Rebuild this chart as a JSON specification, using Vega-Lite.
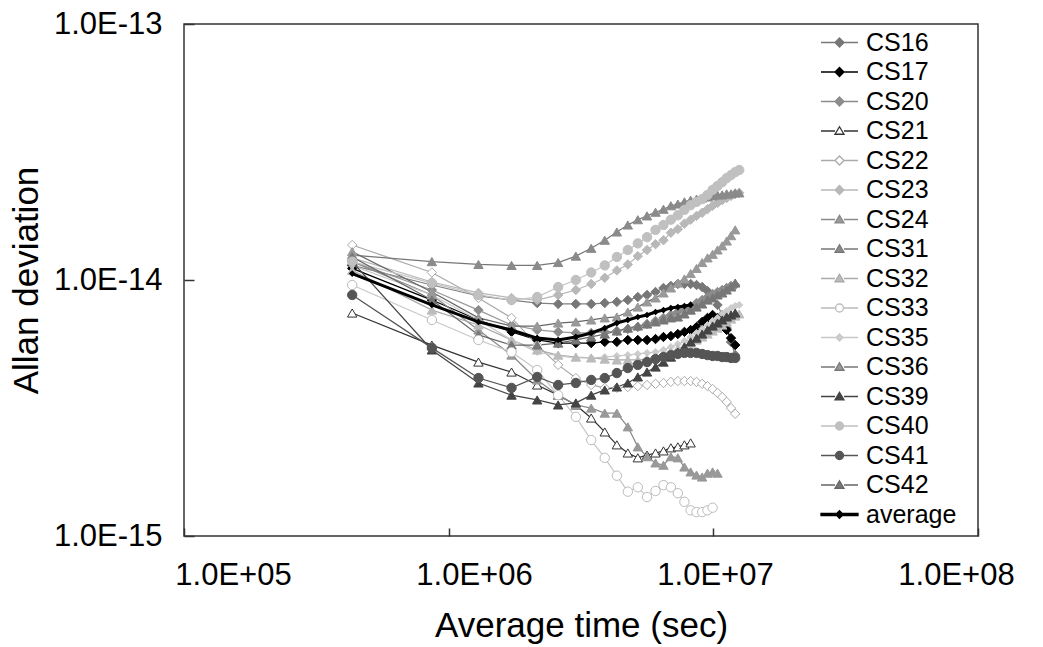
{
"$schema": "https://vega.github.io/schema/vega-lite/v6.json",
"width": 794, "height": 512,
"autosize": {"type": "none"},
"padding": {"left": 184, "top": 24, "right": 65, "bottom": 111},
"background": "#ffffff",
"config": {"view": {"stroke": "#333333", "strokeWidth": 1.5}, "font": "Liberation Sans"},
"data": {"values": [
{"series":"CS16","tau":432000,"adev":1.14e-14},{"series":"CS16","tau":864000,"adev":9.56e-15},{"series":"CS16","tau":1296000,"adev":8.66e-15},{"series":"CS16","tau":1728000,"adev":8.35e-15},{"series":"CS16","tau":2160000,"adev":8.13e-15},{"series":"CS16","tau":2592000,"adev":8.06e-15},{"series":"CS16","tau":3024000,"adev":8.06e-15},{"series":"CS16","tau":3456000,"adev":8.06e-15},{"series":"CS16","tau":3888000,"adev":8.13e-15},{"series":"CS16","tau":4320000,"adev":8.21e-15},{"series":"CS16","tau":4752000,"adev":8.35e-15},{"series":"CS16","tau":5184000,"adev":8.58e-15},{"series":"CS16","tau":5616000,"adev":8.74e-15},{"series":"CS16","tau":6048000,"adev":8.98e-15},{"series":"CS16","tau":6480000,"adev":9.31e-15},{"series":"CS16","tau":6912000,"adev":9.48e-15},{"series":"CS16","tau":7344000,"adev":9.65e-15},{"series":"CS16","tau":7776000,"adev":9.65e-15},{"series":"CS16","tau":8208000,"adev":9.65e-15},{"series":"CS16","tau":8640000,"adev":9.56e-15},{"series":"CS16","tau":9072000,"adev":9.39e-15},{"series":"CS16","tau":9504000,"adev":9.06e-15},{"series":"CS16","tau":9936000,"adev":8.58e-15},{"series":"CS16","tau":10368000,"adev":7.99e-15},{"series":"CS16","tau":10800000,"adev":7.30e-15},{"series":"CS16","tau":11232000,"adev":6.49e-15},{"series":"CS16","tau":11664000,"adev":5.73e-15},{"series":"CS16","tau":12096000,"adev":5.09e-15},
{"series":"CS17","tau":432000,"adev":1.11e-14},{"series":"CS17","tau":864000,"adev":8.35e-15},{"series":"CS17","tau":1296000,"adev":6.98e-15},{"series":"CS17","tau":1728000,"adev":6.27e-15},{"series":"CS17","tau":2160000,"adev":5.83e-15},{"series":"CS17","tau":2592000,"adev":5.67e-15},{"series":"CS17","tau":3024000,"adev":5.67e-15},{"series":"CS17","tau":3456000,"adev":5.67e-15},{"series":"CS17","tau":3888000,"adev":5.73e-15},{"series":"CS17","tau":4320000,"adev":5.73e-15},{"series":"CS17","tau":4752000,"adev":5.83e-15},{"series":"CS17","tau":5184000,"adev":5.83e-15},{"series":"CS17","tau":5616000,"adev":5.83e-15},{"series":"CS17","tau":6048000,"adev":5.88e-15},{"series":"CS17","tau":6480000,"adev":5.99e-15},{"series":"CS17","tau":6912000,"adev":6.04e-15},{"series":"CS17","tau":7344000,"adev":6.15e-15},{"series":"CS17","tau":7776000,"adev":6.27e-15},{"series":"CS17","tau":8208000,"adev":6.38e-15},{"series":"CS17","tau":8640000,"adev":6.55e-15},{"series":"CS17","tau":9072000,"adev":6.86e-15},{"series":"CS17","tau":9504000,"adev":7.11e-15},{"series":"CS17","tau":9936000,"adev":7.30e-15},{"series":"CS17","tau":10368000,"adev":7.11e-15},{"series":"CS17","tau":10800000,"adev":6.79e-15},{"series":"CS17","tau":11232000,"adev":6.38e-15},{"series":"CS17","tau":11664000,"adev":5.93e-15},{"series":"CS17","tau":12096000,"adev":5.57e-15},
{"series":"CS20","tau":432000,"adev":1.18e-14},{"series":"CS20","tau":864000,"adev":9.14e-15},{"series":"CS20","tau":1296000,"adev":7.63e-15},{"series":"CS20","tau":1728000,"adev":6.67e-15},{"series":"CS20","tau":2160000,"adev":6.38e-15},{"series":"CS20","tau":2592000,"adev":6.27e-15},{"series":"CS20","tau":3024000,"adev":6.21e-15},{"series":"CS20","tau":3456000,"adev":6.21e-15},{"series":"CS20","tau":3888000,"adev":6.27e-15},{"series":"CS20","tau":4320000,"adev":6.32e-15},{"series":"CS20","tau":4752000,"adev":6.44e-15},{"series":"CS20","tau":5184000,"adev":6.55e-15},{"series":"CS20","tau":5616000,"adev":6.73e-15},{"series":"CS20","tau":6048000,"adev":6.92e-15},{"series":"CS20","tau":6480000,"adev":7.11e-15},{"series":"CS20","tau":6912000,"adev":7.30e-15},{"series":"CS20","tau":7344000,"adev":7.50e-15},{"series":"CS20","tau":7776000,"adev":7.70e-15},{"series":"CS20","tau":8208000,"adev":7.91e-15},{"series":"CS20","tau":8640000,"adev":8.13e-15},{"series":"CS20","tau":9072000,"adev":8.35e-15},{"series":"CS20","tau":9504000,"adev":8.58e-15},{"series":"CS20","tau":9936000,"adev":8.82e-15},{"series":"CS20","tau":10368000,"adev":8.98e-15},{"series":"CS20","tau":10800000,"adev":9.14e-15},{"series":"CS20","tau":11232000,"adev":9.31e-15},{"series":"CS20","tau":11664000,"adev":9.48e-15},{"series":"CS20","tau":12096000,"adev":9.56e-15},
{"series":"CS21","tau":432000,"adev":7.43e-15},{"series":"CS21","tau":864000,"adev":5.57e-15},{"series":"CS21","tau":1296000,"adev":4.78e-15},{"series":"CS21","tau":1728000,"adev":4.37e-15},{"series":"CS21","tau":2160000,"adev":3.89e-15},{"series":"CS21","tau":2592000,"adev":3.55e-15},{"series":"CS21","tau":3024000,"adev":3.25e-15},{"series":"CS21","tau":3456000,"adev":2.89e-15},{"series":"CS21","tau":3888000,"adev":2.55e-15},{"series":"CS21","tau":4320000,"adev":2.27e-15},{"series":"CS21","tau":4752000,"adev":2.11e-15},{"series":"CS21","tau":5184000,"adev":2.02e-15},{"series":"CS21","tau":5616000,"adev":2.07e-15},{"series":"CS21","tau":6048000,"adev":2.11e-15},{"series":"CS21","tau":6480000,"adev":2.15e-15},{"series":"CS21","tau":6912000,"adev":2.21e-15},{"series":"CS21","tau":7344000,"adev":2.23e-15},{"series":"CS21","tau":7776000,"adev":2.27e-15},{"series":"CS21","tau":8208000,"adev":2.31e-15},
{"series":"CS22","tau":432000,"adev":1.37e-14},{"series":"CS22","tau":864000,"adev":1.07e-14},{"series":"CS22","tau":1296000,"adev":8.51e-15},{"series":"CS22","tau":1728000,"adev":7.11e-15},{"series":"CS22","tau":2160000,"adev":5.57e-15},{"series":"CS22","tau":2592000,"adev":4.66e-15},{"series":"CS22","tau":3024000,"adev":4.14e-15},{"series":"CS22","tau":3456000,"adev":3.89e-15},{"series":"CS22","tau":3888000,"adev":3.79e-15},{"series":"CS22","tau":4320000,"adev":3.79e-15},{"series":"CS22","tau":4752000,"adev":3.82e-15},{"series":"CS22","tau":5184000,"adev":3.85e-15},{"series":"CS22","tau":5616000,"adev":3.89e-15},{"series":"CS22","tau":6048000,"adev":3.93e-15},{"series":"CS22","tau":6480000,"adev":3.96e-15},{"series":"CS22","tau":6912000,"adev":4.00e-15},{"series":"CS22","tau":7344000,"adev":4.03e-15},{"series":"CS22","tau":7776000,"adev":4.03e-15},{"series":"CS22","tau":8208000,"adev":4.03e-15},{"series":"CS22","tau":8640000,"adev":4.00e-15},{"series":"CS22","tau":9072000,"adev":3.93e-15},{"series":"CS22","tau":9504000,"adev":3.85e-15},{"series":"CS22","tau":9936000,"adev":3.75e-15},{"series":"CS22","tau":10368000,"adev":3.62e-15},{"series":"CS22","tau":10800000,"adev":3.49e-15},{"series":"CS22","tau":11232000,"adev":3.34e-15},{"series":"CS22","tau":11664000,"adev":3.16e-15},{"series":"CS22","tau":12096000,"adev":3.00e-15},
{"series":"CS23","tau":432000,"adev":1.22e-14},{"series":"CS23","tau":864000,"adev":9.82e-15},{"series":"CS23","tau":1296000,"adev":8.90e-15},{"series":"CS23","tau":1728000,"adev":8.51e-15},{"series":"CS23","tau":2160000,"adev":8.35e-15},{"series":"CS23","tau":2592000,"adev":8.74e-15},{"series":"CS23","tau":3024000,"adev":9.14e-15},{"series":"CS23","tau":3456000,"adev":9.65e-15},{"series":"CS23","tau":3888000,"adev":1.02e-14},{"series":"CS23","tau":4320000,"adev":1.09e-14},{"series":"CS23","tau":4752000,"adev":1.15e-14},{"series":"CS23","tau":5184000,"adev":1.24e-14},{"series":"CS23","tau":5616000,"adev":1.31e-14},{"series":"CS23","tau":6048000,"adev":1.38e-14},{"series":"CS23","tau":6480000,"adev":1.43e-14},{"series":"CS23","tau":6912000,"adev":1.53e-14},{"series":"CS23","tau":7344000,"adev":1.58e-14},{"series":"CS23","tau":7776000,"adev":1.66e-14},{"series":"CS23","tau":8208000,"adev":1.72e-14},{"series":"CS23","tau":8640000,"adev":1.78e-14},{"series":"CS23","tau":9072000,"adev":1.83e-14},{"series":"CS23","tau":9504000,"adev":1.89e-14},{"series":"CS23","tau":9936000,"adev":1.95e-14},{"series":"CS23","tau":10368000,"adev":2.00e-14},{"series":"CS23","tau":10800000,"adev":2.05e-14},{"series":"CS23","tau":11232000,"adev":2.09e-14},{"series":"CS23","tau":11664000,"adev":2.13e-14},{"series":"CS23","tau":12096000,"adev":2.17e-14},{"series":"CS23","tau":12528000,"adev":2.19e-14},
{"series":"CS24","tau":432000,"adev":1.18e-14},{"series":"CS24","tau":864000,"adev":8.74e-15},{"series":"CS24","tau":1296000,"adev":6.38e-15},{"series":"CS24","tau":1728000,"adev":5.09e-15},{"series":"CS24","tau":2160000,"adev":4.07e-15},{"series":"CS24","tau":2592000,"adev":3.55e-15},{"series":"CS24","tau":3024000,"adev":3.25e-15},{"series":"CS24","tau":3456000,"adev":3.16e-15},{"series":"CS24","tau":3888000,"adev":3.02e-15},{"series":"CS24","tau":4320000,"adev":3.02e-15},{"series":"CS24","tau":4752000,"adev":2.67e-15},{"series":"CS24","tau":5184000,"adev":2.23e-15},{"series":"CS24","tau":5616000,"adev":2.04e-15},{"series":"CS24","tau":6048000,"adev":1.93e-15},{"series":"CS24","tau":6480000,"adev":1.89e-15},{"series":"CS24","tau":6912000,"adev":2.04e-15},{"series":"CS24","tau":7344000,"adev":2.02e-15},{"series":"CS24","tau":7776000,"adev":1.86e-15},{"series":"CS24","tau":8208000,"adev":1.78e-15},{"series":"CS24","tau":8640000,"adev":1.73e-15},{"series":"CS24","tau":9072000,"adev":1.70e-15},{"series":"CS24","tau":9504000,"adev":1.76e-15},{"series":"CS24","tau":9936000,"adev":1.78e-15},{"series":"CS24","tau":10368000,"adev":1.76e-15},
{"series":"CS31","tau":432000,"adev":1.25e-14},{"series":"CS31","tau":864000,"adev":1.18e-14},{"series":"CS31","tau":1296000,"adev":1.15e-14},{"series":"CS31","tau":1728000,"adev":1.14e-14},{"series":"CS31","tau":2160000,"adev":1.14e-14},{"series":"CS31","tau":2592000,"adev":1.17e-14},{"series":"CS31","tau":3024000,"adev":1.24e-14},{"series":"CS31","tau":3456000,"adev":1.33e-14},{"series":"CS31","tau":3888000,"adev":1.43e-14},{"series":"CS31","tau":4320000,"adev":1.54e-14},{"series":"CS31","tau":4752000,"adev":1.64e-14},{"series":"CS31","tau":5184000,"adev":1.72e-14},{"series":"CS31","tau":5616000,"adev":1.78e-14},{"series":"CS31","tau":6048000,"adev":1.84e-14},{"series":"CS31","tau":6480000,"adev":1.89e-14},{"series":"CS31","tau":6912000,"adev":1.95e-14},{"series":"CS31","tau":7344000,"adev":1.98e-14},{"series":"CS31","tau":7776000,"adev":2.02e-14},{"series":"CS31","tau":8208000,"adev":2.05e-14},{"series":"CS31","tau":8640000,"adev":2.07e-14},{"series":"CS31","tau":9072000,"adev":2.09e-14},{"series":"CS31","tau":9504000,"adev":2.11e-14},{"series":"CS31","tau":9936000,"adev":2.13e-14},{"series":"CS31","tau":10368000,"adev":2.15e-14},{"series":"CS31","tau":10800000,"adev":2.15e-14},{"series":"CS31","tau":11232000,"adev":2.17e-14},{"series":"CS31","tau":11664000,"adev":2.17e-14},{"series":"CS31","tau":12096000,"adev":2.19e-14},{"series":"CS31","tau":12528000,"adev":2.19e-14},
{"series":"CS32","tau":432000,"adev":1.09e-14},{"series":"CS32","tau":864000,"adev":7.63e-15},{"series":"CS32","tau":1296000,"adev":6.67e-15},{"series":"CS32","tau":1728000,"adev":5.83e-15},{"series":"CS32","tau":2160000,"adev":5.33e-15},{"series":"CS32","tau":2592000,"adev":5.09e-15},{"series":"CS32","tau":3024000,"adev":5.00e-15},{"series":"CS32","tau":3456000,"adev":4.96e-15},{"series":"CS32","tau":3888000,"adev":4.91e-15},{"series":"CS32","tau":4320000,"adev":4.87e-15},{"series":"CS32","tau":4752000,"adev":4.87e-15},{"series":"CS32","tau":5184000,"adev":4.87e-15},{"series":"CS32","tau":5616000,"adev":4.91e-15},{"series":"CS32","tau":6048000,"adev":5.00e-15},{"series":"CS32","tau":6480000,"adev":5.09e-15},{"series":"CS32","tau":6912000,"adev":5.23e-15},{"series":"CS32","tau":7344000,"adev":5.38e-15},{"series":"CS32","tau":7776000,"adev":5.52e-15},{"series":"CS32","tau":8208000,"adev":5.67e-15},{"series":"CS32","tau":8640000,"adev":5.83e-15},{"series":"CS32","tau":9072000,"adev":5.99e-15},{"series":"CS32","tau":9504000,"adev":6.15e-15},{"series":"CS32","tau":9936000,"adev":6.32e-15},{"series":"CS32","tau":10368000,"adev":6.49e-15},{"series":"CS32","tau":10800000,"adev":6.67e-15},{"series":"CS32","tau":11232000,"adev":6.86e-15},{"series":"CS32","tau":11664000,"adev":7.04e-15},{"series":"CS32","tau":12096000,"adev":7.23e-15},{"series":"CS32","tau":12528000,"adev":7.37e-15},
{"series":"CS33","tau":432000,"adev":9.56e-15},{"series":"CS33","tau":864000,"adev":6.98e-15},{"series":"CS33","tau":1296000,"adev":5.83e-15},{"series":"CS33","tau":1728000,"adev":5.23e-15},{"series":"CS33","tau":2160000,"adev":4.45e-15},{"series":"CS33","tau":2592000,"adev":3.55e-15},{"series":"CS33","tau":3024000,"adev":2.92e-15},{"series":"CS33","tau":3456000,"adev":2.37e-15},{"series":"CS33","tau":3888000,"adev":2.02e-15},{"series":"CS33","tau":4320000,"adev":1.72e-15},{"series":"CS33","tau":4752000,"adev":1.49e-15},{"series":"CS33","tau":5184000,"adev":1.55e-15},{"series":"CS33","tau":5616000,"adev":1.42e-15},{"series":"CS33","tau":6048000,"adev":1.50e-15},{"series":"CS33","tau":6480000,"adev":1.58e-15},{"series":"CS33","tau":6912000,"adev":1.55e-15},{"series":"CS33","tau":7344000,"adev":1.47e-15},{"series":"CS33","tau":7776000,"adev":1.36e-15},{"series":"CS33","tau":8208000,"adev":1.26e-15},{"series":"CS33","tau":8640000,"adev":1.24e-15},{"series":"CS33","tau":9072000,"adev":1.24e-15},{"series":"CS33","tau":9504000,"adev":1.26e-15},{"series":"CS33","tau":9936000,"adev":1.29e-15},
{"series":"CS35","tau":432000,"adev":1.14e-14},{"series":"CS35","tau":864000,"adev":8.74e-15},{"series":"CS35","tau":1296000,"adev":6.98e-15},{"series":"CS35","tau":1728000,"adev":5.83e-15},{"series":"CS35","tau":2160000,"adev":5.23e-15},{"series":"CS35","tau":2592000,"adev":5.05e-15},{"series":"CS35","tau":3024000,"adev":4.96e-15},{"series":"CS35","tau":3456000,"adev":4.96e-15},{"series":"CS35","tau":3888000,"adev":5.00e-15},{"series":"CS35","tau":4320000,"adev":5.05e-15},{"series":"CS35","tau":4752000,"adev":5.09e-15},{"series":"CS35","tau":5184000,"adev":5.14e-15},{"series":"CS35","tau":5616000,"adev":5.19e-15},{"series":"CS35","tau":6048000,"adev":5.23e-15},{"series":"CS35","tau":6480000,"adev":5.33e-15},{"series":"CS35","tau":6912000,"adev":5.47e-15},{"series":"CS35","tau":7344000,"adev":5.62e-15},{"series":"CS35","tau":7776000,"adev":5.78e-15},{"series":"CS35","tau":8208000,"adev":5.99e-15},{"series":"CS35","tau":8640000,"adev":6.21e-15},{"series":"CS35","tau":9072000,"adev":6.44e-15},{"series":"CS35","tau":9504000,"adev":6.67e-15},{"series":"CS35","tau":9936000,"adev":6.92e-15},{"series":"CS35","tau":10368000,"adev":7.11e-15},{"series":"CS35","tau":10800000,"adev":7.37e-15},{"series":"CS35","tau":11232000,"adev":7.57e-15},{"series":"CS35","tau":11664000,"adev":7.77e-15},{"series":"CS35","tau":12096000,"adev":7.91e-15},{"series":"CS35","tau":12528000,"adev":7.99e-15},
{"series":"CS36","tau":432000,"adev":1.29e-14},{"series":"CS36","tau":864000,"adev":8.98e-15},{"series":"CS36","tau":1296000,"adev":7.11e-15},{"series":"CS36","tau":1728000,"adev":6.61e-15},{"series":"CS36","tau":2160000,"adev":6.61e-15},{"series":"CS36","tau":2592000,"adev":6.79e-15},{"series":"CS36","tau":3024000,"adev":6.86e-15},{"series":"CS36","tau":3456000,"adev":6.98e-15},{"series":"CS36","tau":3888000,"adev":7.11e-15},{"series":"CS36","tau":4320000,"adev":7.17e-15},{"series":"CS36","tau":4752000,"adev":7.50e-15},{"series":"CS36","tau":5184000,"adev":7.84e-15},{"series":"CS36","tau":5616000,"adev":8.21e-15},{"series":"CS36","tau":6048000,"adev":8.51e-15},{"series":"CS36","tau":6480000,"adev":8.90e-15},{"series":"CS36","tau":6912000,"adev":9.31e-15},{"series":"CS36","tau":7344000,"adev":9.73e-15},{"series":"CS36","tau":7776000,"adev":1.01e-14},{"series":"CS36","tau":8208000,"adev":1.06e-14},{"series":"CS36","tau":8640000,"adev":1.11e-14},{"series":"CS36","tau":9072000,"adev":1.17e-14},{"series":"CS36","tau":9504000,"adev":1.22e-14},{"series":"CS36","tau":9936000,"adev":1.26e-14},{"series":"CS36","tau":10368000,"adev":1.31e-14},{"series":"CS36","tau":10800000,"adev":1.36e-14},{"series":"CS36","tau":11232000,"adev":1.42e-14},{"series":"CS36","tau":11664000,"adev":1.49e-14},{"series":"CS36","tau":12096000,"adev":1.57e-14},
{"series":"CS39","tau":432000,"adev":1.18e-14},{"series":"CS39","tau":864000,"adev":5.33e-15},{"series":"CS39","tau":1296000,"adev":3.96e-15},{"series":"CS39","tau":1728000,"adev":3.55e-15},{"series":"CS39","tau":2160000,"adev":3.40e-15},{"series":"CS39","tau":2592000,"adev":3.25e-15},{"series":"CS39","tau":3024000,"adev":3.31e-15},{"series":"CS39","tau":3456000,"adev":3.55e-15},{"series":"CS39","tau":3888000,"adev":3.72e-15},{"series":"CS39","tau":4320000,"adev":3.82e-15},{"series":"CS39","tau":4752000,"adev":3.96e-15},{"series":"CS39","tau":5184000,"adev":4.18e-15},{"series":"CS39","tau":5616000,"adev":4.37e-15},{"series":"CS39","tau":6048000,"adev":4.57e-15},{"series":"CS39","tau":6480000,"adev":4.78e-15},{"series":"CS39","tau":6912000,"adev":5.00e-15},{"series":"CS39","tau":7344000,"adev":5.23e-15},{"series":"CS39","tau":7776000,"adev":5.47e-15},{"series":"CS39","tau":8208000,"adev":5.73e-15},{"series":"CS39","tau":8640000,"adev":5.93e-15},{"series":"CS39","tau":9072000,"adev":6.15e-15},{"series":"CS39","tau":9504000,"adev":6.38e-15},{"series":"CS39","tau":9936000,"adev":6.61e-15},{"series":"CS39","tau":10368000,"adev":6.79e-15},{"series":"CS39","tau":10800000,"adev":6.98e-15},{"series":"CS39","tau":11232000,"adev":7.17e-15},{"series":"CS39","tau":11664000,"adev":7.30e-15},{"series":"CS39","tau":12096000,"adev":7.43e-15},
{"series":"CS40","tau":432000,"adev":1.18e-14},{"series":"CS40","tau":864000,"adev":9.73e-15},{"series":"CS40","tau":1296000,"adev":8.74e-15},{"series":"CS40","tau":1728000,"adev":8.35e-15},{"series":"CS40","tau":2160000,"adev":8.58e-15},{"series":"CS40","tau":2592000,"adev":9.39e-15},{"series":"CS40","tau":3024000,"adev":1.00e-14},{"series":"CS40","tau":3456000,"adev":1.07e-14},{"series":"CS40","tau":3888000,"adev":1.14e-14},{"series":"CS40","tau":4320000,"adev":1.23e-14},{"series":"CS40","tau":4752000,"adev":1.31e-14},{"series":"CS40","tau":5184000,"adev":1.39e-14},{"series":"CS40","tau":5616000,"adev":1.47e-14},{"series":"CS40","tau":6048000,"adev":1.57e-14},{"series":"CS40","tau":6480000,"adev":1.64e-14},{"series":"CS40","tau":6912000,"adev":1.72e-14},{"series":"CS40","tau":7344000,"adev":1.79e-14},{"series":"CS40","tau":7776000,"adev":1.88e-14},{"series":"CS40","tau":8208000,"adev":1.96e-14},{"series":"CS40","tau":8640000,"adev":2.02e-14},{"series":"CS40","tau":9072000,"adev":2.07e-14},{"series":"CS40","tau":9504000,"adev":2.15e-14},{"series":"CS40","tau":9936000,"adev":2.25e-14},{"series":"CS40","tau":10368000,"adev":2.33e-14},{"series":"CS40","tau":10800000,"adev":2.41e-14},{"series":"CS40","tau":11232000,"adev":2.50e-14},{"series":"CS40","tau":11664000,"adev":2.57e-14},{"series":"CS40","tau":12096000,"adev":2.64e-14},{"series":"CS40","tau":12528000,"adev":2.69e-14},
{"series":"CS41","tau":432000,"adev":8.74e-15},{"series":"CS41","tau":864000,"adev":5.43e-15},{"series":"CS41","tau":1296000,"adev":4.14e-15},{"series":"CS41","tau":1728000,"adev":3.79e-15},{"series":"CS41","tau":2160000,"adev":4.18e-15},{"series":"CS41","tau":2592000,"adev":3.89e-15},{"series":"CS41","tau":3024000,"adev":3.96e-15},{"series":"CS41","tau":3456000,"adev":4.07e-15},{"series":"CS41","tau":3888000,"adev":4.14e-15},{"series":"CS41","tau":4320000,"adev":4.33e-15},{"series":"CS41","tau":4752000,"adev":4.53e-15},{"series":"CS41","tau":5184000,"adev":4.66e-15},{"series":"CS41","tau":5616000,"adev":4.78e-15},{"series":"CS41","tau":6048000,"adev":4.91e-15},{"series":"CS41","tau":6480000,"adev":5.00e-15},{"series":"CS41","tau":6912000,"adev":5.09e-15},{"series":"CS41","tau":7344000,"adev":5.14e-15},{"series":"CS41","tau":7776000,"adev":5.19e-15},{"series":"CS41","tau":8208000,"adev":5.19e-15},{"series":"CS41","tau":8640000,"adev":5.19e-15},{"series":"CS41","tau":9072000,"adev":5.14e-15},{"series":"CS41","tau":9504000,"adev":5.09e-15},{"series":"CS41","tau":9936000,"adev":5.05e-15},{"series":"CS41","tau":10368000,"adev":5.05e-15},{"series":"CS41","tau":10800000,"adev":5.00e-15},{"series":"CS41","tau":11232000,"adev":5.00e-15},{"series":"CS41","tau":11664000,"adev":4.96e-15},{"series":"CS41","tau":12096000,"adev":4.96e-15},
{"series":"CS42","tau":432000,"adev":1.23e-14},{"series":"CS42","tau":864000,"adev":8.35e-15},{"series":"CS42","tau":1296000,"adev":6.10e-15},{"series":"CS42","tau":1728000,"adev":5.57e-15},{"series":"CS42","tau":2160000,"adev":5.57e-15},{"series":"CS42","tau":2592000,"adev":5.67e-15},{"series":"CS42","tau":3024000,"adev":5.83e-15},{"series":"CS42","tau":3456000,"adev":5.99e-15},{"series":"CS42","tau":3888000,"adev":6.15e-15},{"series":"CS42","tau":4320000,"adev":6.32e-15},{"series":"CS42","tau":4752000,"adev":6.49e-15},{"series":"CS42","tau":5184000,"adev":6.61e-15},{"series":"CS42","tau":5616000,"adev":6.73e-15},{"series":"CS42","tau":6048000,"adev":6.86e-15},{"series":"CS42","tau":6480000,"adev":6.98e-15},{"series":"CS42","tau":6912000,"adev":7.11e-15},{"series":"CS42","tau":7344000,"adev":7.17e-15},{"series":"CS42","tau":7776000,"adev":7.37e-15},{"series":"CS42","tau":8208000,"adev":7.63e-15},{"series":"CS42","tau":8640000,"adev":7.84e-15},{"series":"CS42","tau":9072000,"adev":8.06e-15},{"series":"CS42","tau":9504000,"adev":8.35e-15},{"series":"CS42","tau":9936000,"adev":8.51e-15},{"series":"CS42","tau":10368000,"adev":8.74e-15},{"series":"CS42","tau":10800000,"adev":8.90e-15},{"series":"CS42","tau":11232000,"adev":9.14e-15},{"series":"CS42","tau":11664000,"adev":9.39e-15},{"series":"CS42","tau":12096000,"adev":9.73e-15},
{"series":"average","tau":432000,"adev":1.06e-14},{"series":"average","tau":864000,"adev":7.99e-15},{"series":"average","tau":1296000,"adev":6.86e-15},{"series":"average","tau":1728000,"adev":6.38e-15},{"series":"average","tau":2160000,"adev":5.93e-15},{"series":"average","tau":2592000,"adev":5.83e-15},{"series":"average","tau":3024000,"adev":5.99e-15},{"series":"average","tau":3456000,"adev":6.21e-15},{"series":"average","tau":3888000,"adev":6.49e-15},{"series":"average","tau":4320000,"adev":6.79e-15},{"series":"average","tau":4752000,"adev":6.98e-15},{"series":"average","tau":5184000,"adev":7.17e-15},{"series":"average","tau":5616000,"adev":7.30e-15},{"series":"average","tau":6048000,"adev":7.50e-15},{"series":"average","tau":6480000,"adev":7.63e-15},{"series":"average","tau":6912000,"adev":7.77e-15},{"series":"average","tau":7344000,"adev":7.84e-15},{"series":"average","tau":7776000,"adev":7.91e-15},{"series":"average","tau":8208000,"adev":7.99e-15}
]},
"encoding": {
  "y": {"field": "adev", "type": "quantitative",
    "scale": {"type": "log", "domain": [1e-15, 1e-13], "nice": false},
    "axis": {"values": [1e-15, 1e-14, 1e-13],
      "labelExpr": "'1.0E-' + round(-log(datum.value)/LN10)",
      "grid": false, "domain": false, "ticks": true, "tickSize": -10, "tickWidth": 1.5, "tickColor": "#333333",
      "labelFont": "Liberation Sans", "labelFontSize": 31, "labelColor": "#000000", "labelPadding": 32,
      "labelFlush": false, "labelOverlap": false,
      "title": "Allan deviation", "titleFont": "Liberation Sans", "titleFontSize": 35, "titleFontWeight": "normal", "titleColor": "#000000", "titlePadding": 9}}
},
"resolve": {"scale": {"x": "independent", "fill": "independent", "stroke": "independent", "shape": "independent"}, "axis": {"x": "independent"}, "legend": {"fill": "independent", "stroke": "independent", "shape": "independent"}},
"layer": [
  {"mark": {"type": "point", "filled": true, "opacity": 0},
   "encoding": {
     "x": {"field": "tau", "type": "quantitative", "scale": {"type": "log", "domain": [62620, 123390000], "nice": false},
       "axis": {"orient": "bottom", "values": [100000, 1000000, 10000000, 100000000],
         "labelExpr": "'1.0E+0' + round(log(datum.value)/LN10)",
         "grid": false, "domain": false, "ticks": false, "tickSize": 0,
         "labelFont": "Liberation Sans", "labelFontSize": 31, "labelColor": "#000000", "labelPadding": 24,
         "labelFlush": false, "labelOverlap": false,
         "title": "Average time (sec)", "titleFont": "Liberation Sans", "titleFontSize": 35, "titleFontWeight": "normal", "titleColor": "#000000", "titlePadding": 18}},
     "shape": {"field": "series", "type": "nominal",
       "scale": {"domain": ["CS16","CS17","CS20","CS21","CS22","CS23","CS24","CS31","CS32","CS33","CS35","CS36","CS39","CS40","CS41","CS42","average"],
                 "range": ["M-3.7,0H-0.9M0.9,0H3.7M0,-0.9L0.9,0L0,0.9L-0.9,0Z","M-3.7,0H-0.9M0.9,0H3.7M0,-0.9L0.9,0L0,0.9L-0.9,0Z","M-3.7,0H-0.9M0.9,0H3.7M0,-0.9L0.9,0L0,0.9L-0.9,0Z","M-3.7,0H-0.9M0.9,0H3.7M0,-0.85L0.9,0.65L-0.9,0.65Z","M-3.7,0H-0.9M0.9,0H3.7M0,-0.9L0.9,0L0,0.9L-0.9,0Z","M-3.7,0H-0.9M0.9,0H3.7M0,-0.9L0.9,0L0,0.9L-0.9,0Z","M-3.7,0H-0.9M0.9,0H3.7M0,-0.85L0.9,0.65L-0.9,0.65Z","M-3.7,0H-0.9M0.9,0H3.7M0,-0.85L0.9,0.65L-0.9,0.65Z","M-3.7,0H-0.9M0.9,0H3.7M0,-0.85L0.9,0.65L-0.9,0.65Z","M-3.7,0H-0.8M0.8,0H3.7M-0.8,0A0.8,0.8,0,1,1,0.8,0A0.8,0.8,0,1,1,-0.8,0Z","M-3.7,0H-0.7M0.7,0H3.7M0,-0.7L0.7,0L0,0.7L-0.7,0Z","M-3.7,0H-0.9M0.9,0H3.7M0,-0.85L0.9,0.65L-0.9,0.65Z","M-3.7,0H-0.9M0.9,0H3.7M0,-0.85L0.9,0.65L-0.9,0.65Z","M-3.7,0H-0.8M0.8,0H3.7M-0.8,0A0.8,0.8,0,1,1,0.8,0A0.8,0.8,0,1,1,-0.8,0Z","M-3.7,0H-0.8M0.8,0H3.7M-0.8,0A0.8,0.8,0,1,1,0.8,0A0.8,0.8,0,1,1,-0.8,0Z","M-3.7,0H-0.9M0.9,0H3.7M0,-0.85L0.9,0.65L-0.9,0.65Z","M-3.7,-0.22H3.7V0.22H-3.7ZM0,-0.75L0.75,0L0,0.75L-0.75,0Z"]},
       "legend": {"orient": "none", "legendX": 643, "legendY": 6, "title": null, "padding": 0,
         "labelFont": "Liberation Sans", "labelFontSize": 25, "labelColor": "#000000", "labelOffset": 14,
         "rowPadding": 3.5, "symbolSize": 100, "symbolStrokeWidth": 1.3, "symbolOpacity": 1}},
     "fill": {"field": "series", "type": "nominal",
       "scale": {"domain": ["CS16","CS17","CS20","CS21","CS22","CS23","CS24","CS31","CS32","CS33","CS35","CS36","CS39","CS40","CS41","CS42","average"],
                 "range": ["#777777","#000000","#8c8c8c","#ffffff","#ffffff","#b8b8b8","#999999","#8a8a8a","#bbbbbb","#ffffff","#cccccc","#999999","#444444","#c0c0c0","#555555","#777777","#000000"]},
       "legend": {"orient": "none", "legendX": 643, "legendY": 6, "title": null, "padding": 0,
         "labelFont": "Liberation Sans", "labelFontSize": 25, "labelColor": "#000000", "labelOffset": 14,
         "rowPadding": 3.5, "symbolSize": 100, "symbolStrokeWidth": 1.3, "symbolOpacity": 1}},
     "stroke": {"field": "series", "type": "nominal",
       "scale": {"domain": ["CS16","CS17","CS20","CS21","CS22","CS23","CS24","CS31","CS32","CS33","CS35","CS36","CS39","CS40","CS41","CS42","average"],
                 "range": ["#777777","#000000","#8c8c8c","#333333","#aaaaaa","#b8b8b8","#8a8a8a","#777777","#aaaaaa","#bbbbbb","#c8c8c8","#777777","#444444","#c0c0c0","#555555","#666666","#000000"]},
       "legend": {"orient": "none", "legendX": 643, "legendY": 6, "title": null, "padding": 0,
         "labelFont": "Liberation Sans", "labelFontSize": 25, "labelColor": "#000000", "labelOffset": 14,
         "rowPadding": 3.5, "symbolSize": 100, "symbolStrokeWidth": 1.3, "symbolOpacity": 1}}
   }},
  {"transform": [{"filter": "datum.series !== 'average'"}],
   "mark": {"type": "line", "strokeWidth": 1.25},
   "encoding": {
     "x": {"field": "tau", "type": "quantitative", "scale": {"type": "log", "domain": [100000, 100000000], "nice": false},
       "axis": {"orient": "bottom", "values": [100000, 1000000, 10000000, 100000000], "grid": false, "domain": false, "labels": false,
         "ticks": true, "tickSize": -8, "tickWidth": 1.5, "tickColor": "#333333", "title": null}},
     "color": {"field": "series", "type": "nominal", "legend": null,
       "scale": {"domain": ["CS16","CS17","CS20","CS21","CS22","CS23","CS24","CS31","CS32","CS33","CS35","CS36","CS39","CS40","CS41","CS42"],
                 "range": ["#808080","#000000","#999999","#333333","#aaaaaa","#b8b8b8","#8a8a8a","#777777","#aaaaaa","#c8c8c8","#c8c8c8","#666666","#444444","#c4c4c4","#555555","#666666"]}},
     "detail": {"field": "series"}
   }},
  {"transform": [{"filter": {"field": "series", "oneOf": ["CS16","CS17","CS20","CS22","CS23","CS35"]}}],
   "mark": {"type": "point", "shape": "diamond", "filled": true, "opacity": 1, "strokeWidth": 1},
   "encoding": {
     "x": {"field": "tau", "type": "quantitative", "scale": {"type": "log", "domain": [100000, 100000000], "nice": false}, "axis": null},
     "fill": {"field": "series", "type": "nominal", "legend": null,
       "scale": {"domain": ["CS16","CS17","CS20","CS22","CS23","CS35"], "range": ["#777777","#000000","#8c8c8c","#ffffff","#b8b8b8","#cccccc"]}},
     "stroke": {"field": "series", "type": "nominal", "legend": null,
       "scale": {"domain": ["CS16","CS17","CS20","CS22","CS23","CS35"], "range": ["#777777","#000000","#8c8c8c","#aaaaaa","#b8b8b8","#cccccc"]}},
     "size": {"condition": {"test": "datum.series === 'CS35'", "value": 50}, "value": 88}
   }},
  {"transform": [{"filter": {"field": "series", "oneOf": ["CS21","CS24","CS31","CS32","CS36","CS39","CS42"]}}],
   "mark": {"type": "point", "shape": "triangle-up", "filled": true, "opacity": 1, "strokeWidth": 1, "size": 88},
   "encoding": {
     "x": {"field": "tau", "type": "quantitative", "scale": {"type": "log", "domain": [100000, 100000000], "nice": false}, "axis": null},
     "fill": {"field": "series", "type": "nominal", "legend": null,
       "scale": {"domain": ["CS21","CS24","CS31","CS32","CS36","CS39","CS42"], "range": ["#ffffff","#999999","#8a8a8a","#bbbbbb","#999999","#444444","#777777"]}},
     "stroke": {"field": "series", "type": "nominal", "legend": null,
       "scale": {"domain": ["CS21","CS24","CS31","CS32","CS36","CS39","CS42"], "range": ["#333333","#999999","#8a8a8a","#bbbbbb","#999999","#444444","#777777"]}}
   }},
  {"transform": [{"filter": {"field": "series", "oneOf": ["CS33","CS40","CS41"]}}],
   "mark": {"type": "point", "shape": "circle", "filled": true, "opacity": 1, "strokeWidth": 1, "size": 88},
   "encoding": {
     "x": {"field": "tau", "type": "quantitative", "scale": {"type": "log", "domain": [100000, 100000000], "nice": false}, "axis": null},
     "fill": {"field": "series", "type": "nominal", "legend": null,
       "scale": {"domain": ["CS33","CS40","CS41"], "range": ["#ffffff","#c0c0c0","#555555"]}},
     "stroke": {"field": "series", "type": "nominal", "legend": null,
       "scale": {"domain": ["CS33","CS40","CS41"], "range": ["#bbbbbb","#c0c0c0","#555555"]}}
   }},
  {"transform": [{"filter": "datum.series === 'average'"}],
   "mark": {"type": "line", "strokeWidth": 3, "color": "#000000"},
   "encoding": {
     "x": {"field": "tau", "type": "quantitative", "scale": {"type": "log", "domain": [100000, 100000000], "nice": false}, "axis": null}
   }},
  {"transform": [{"filter": "datum.series === 'average'"}],
   "mark": {"type": "point", "shape": "diamond", "filled": true, "opacity": 1, "color": "#000000", "size": 45},
   "encoding": {
     "x": {"field": "tau", "type": "quantitative", "scale": {"type": "log", "domain": [100000, 100000000], "nice": false}, "axis": null}
   }}
]
}
